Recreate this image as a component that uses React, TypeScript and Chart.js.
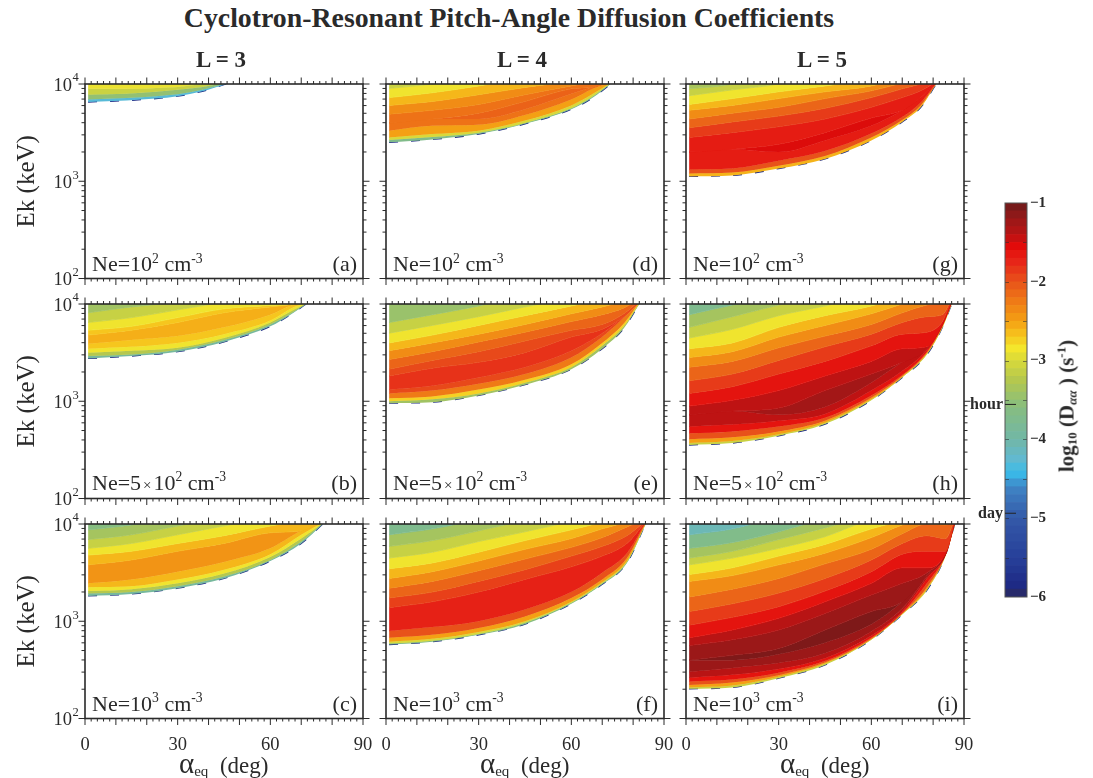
import React, { useEffect, useRef } from "react";
import { Chart, registerables } from "chart.js";

Chart.register(...registerables);

const SERIF = '"Liberation Serif", serif';
const INK = "#2a2a2a";

// x axis / y axis tick lists
const xMajorTicks = [0, 10, 20, 30, 40, 50, 60, 70, 80, 90];
const xMinorTicks = [2, 4, 6, 8, 12, 14, 16, 18, 22, 24, 26, 28, 32, 34, 36, 38, 42, 44, 46, 48, 52, 54, 56, 58, 62, 64, 66, 68, 72, 74, 76, 78, 82, 84, 86, 88];
const yMajorTicks = [100, 1000, 10000];
const yMinorTicks = [200, 300, 400, 500, 600, 700, 800, 900, 2000, 3000, 4000, 5000, 6000, 7000, 8000, 9000];
const yTickExponents: Record<number, string> = { 100: "2", 1000: "3", 10000: "4" };

// Colour scale: log10(Daa) -> colour
const colorStops: [number, string][] = [
  [-6, "#2b2a5e"], [-5.85, "#1e2a85"], [-5.5, "#27409a"], [-5, "#3459a8"], [-4.6, "#3f86c6"],
  [-4.43, "#39bcea"], [-4.25, "#62b9cf"], [-4, "#72b7a6"], [-3.6, "#86bd80"], [-3.25, "#b5c84e"],
  [-3, "#d8d93a"], [-2.85, "#f4e62c"], [-2.7, "#f6c61e"], [-2.5, "#f4a014"], [-2.25, "#ef7a16"],
  [-2, "#e8521a"], [-1.75, "#e72518"], [-1.55, "#e20b0a"], [-1.4, "#b81414"], [-1.2, "#981818"], [-1, "#6c1a1a"],
];
const colorbarEdges = [-6, -5.9, -5.8, -5.7, -5.6, -5.5, -5.4, -5.3, -5.2, -5.1, -5, -4.9, -4.8, -4.7, -4.6, -4.5, -4.4, -4.3, -4.2, -4.1, -4, -3.9, -3.8, -3.7, -3.6, -3.5, -3.4, -3.3, -3.2, -3.1, -3, -2.9, -2.8, -2.7, -2.6, -2.5, -2.4, -2.3, -2.2, -2.1, -2, -1.9, -1.8, -1.7, -1.6, -1.5, -1.4, -1.3, -1.2, -1.1, -1];
const colorbarMarks = [-1.5, -2, -2.5, -3, -3.5, -4, -4.5, -5, -5.5];
const timeMarks: [number, string][] = [[-3.556, "hour"], [-4.937, "day"]];

// Contour profiles: each row is one alpha stop, each entry the log10(E/keV) of one contour, top to bottom
const alphaA = [1, 13.5, 23, 30, 38, 45.7];
const bandsA = [-2.9, -3.1, -3.5, -4.3];
const profilesA = [
  [3.95, 3.89, 3.84, 3.815],
  [3.95, 3.9, 3.855, 3.83],
  [3.96, 3.92, 3.875, 3.85],
  [3.97, 3.94, 3.895, 3.875],
  [4.0, 3.97, 3.94, 3.925],
  [4.03, 4.015, 4.005, 4.0],
];

const alphaB = [1, 15, 30, 45, 60, 67, 71.6];
const bandsB = [-3.4, -3.12, -2.87, -2.7, -2.58, -2.7, -2.87, -3.25, -3.9];
const profilesB = [
  [3.91, 3.81, 3.73, 3.68, 3.59, 3.54, 3.5, 3.465, 3.44],
  [3.97, 3.86, 3.77, 3.73, 3.63, 3.56, 3.52, 3.48, 3.465],
  [4.02, 3.94, 3.86, 3.81, 3.67, 3.6, 3.55, 3.53, 3.51],
  [4.1, 4.02, 3.95, 3.91, 3.76, 3.69, 3.65, 3.63, 3.61],
  [4.2, 4.1, 3.985, 3.97, 3.89, 3.83, 3.81, 3.79, 3.77],
  [4.3, 4.15, 4.0, 3.995, 3.99, 3.96, 3.93, 3.91, 3.9],
  [4.4, 4.2, 4.05, 4.03, 4.02, 4.01, 4.005, 4.002, 4.0],
];

const alphaC = [1, 15, 30, 45, 60, 70, 77];
const bandsC = [-3.6, -3.37, -3.12, -2.87, -2.62, -2.42, -2.62, -2.87, -3.25, -3.9];
const profilesC = [
  [3.94, 3.84, 3.75, 3.68, 3.58, 3.39, 3.35, 3.31, 3.285, 3.26],
  [3.99, 3.89, 3.8, 3.72, 3.63, 3.43, 3.36, 3.33, 3.3, 3.28],
  [4.07, 3.98, 3.89, 3.8, 3.72, 3.51, 3.43, 3.39, 3.36, 3.34],
  [4.2, 4.07, 3.98, 3.88, 3.8, 3.61, 3.53, 3.49, 3.46, 3.44],
  [4.35, 4.2, 4.07, 3.98, 3.91, 3.75, 3.69, 3.66, 3.63, 3.62],
  [4.5, 4.3, 4.15, 4.03, 3.93, 3.93, 3.89, 3.85, 3.82, 3.8],
  [4.6, 4.4, 4.2, 4.06, 4.03, 4.02, 4.015, 4.01, 4.005, 4.0],
];

const alphaD = [1, 15, 30, 45, 60, 67, 72.7];
const bandsD = [-3.1, -2.87, -2.62, -2.37, -2.2, -2.1, -2.2, -2.5, -3, -3.7];
const profilesD = [
  [3.955, 3.86, 3.78, 3.69, 3.6, 3.6, 3.52, 3.45, 3.425, 3.4],
  [4.0, 3.91, 3.82, 3.73, 3.64, 3.64, 3.57, 3.485, 3.455, 3.43],
  [4.08, 3.98, 3.89, 3.79, 3.7, 3.64, 3.58, 3.52, 3.5, 3.485],
  [4.2, 4.06, 3.965, 3.89, 3.82, 3.74, 3.68, 3.625, 3.6, 3.59],
  [4.3, 4.15, 4.03, 3.98, 3.95, 3.9, 3.84, 3.78, 3.75, 3.74],
  [4.4, 4.2, 4.08, 4.02, 3.97, 3.97, 3.95, 3.9, 3.875, 3.86],
  [4.5, 4.3, 4.12, 4.05, 4.03, 4.02, 4.015, 4.01, 4.005, 4.0],
];

const alphaE = [1, 15, 30, 45, 60, 70, 77, 82];
const bandsE = [-3.45, -3.12, -2.87, -2.62, -2.37, -2.12, -1.95, -1.82, -1.95, -2.25, -2.75, -3.4];
const profilesE = [
  [3.81, 3.7, 3.6, 3.52, 3.43, 3.33, 3.26, 3.12, 3.08, 3.03, 3.0, 2.98],
  [3.89, 3.78, 3.68, 3.6, 3.51, 3.42, 3.34, 3.16, 3.11, 3.05, 3.02, 2.99],
  [3.98, 3.87, 3.78, 3.69, 3.61, 3.51, 3.4, 3.245, 3.18, 3.12, 3.08, 3.06],
  [4.1, 3.97, 3.88, 3.79, 3.71, 3.62, 3.5, 3.35, 3.28, 3.22, 3.19, 3.17],
  [4.25, 4.07, 3.98, 3.9, 3.82, 3.73, 3.66, 3.52, 3.45, 3.38, 3.35, 3.33],
  [4.35, 4.18, 4.05, 3.97, 3.89, 3.79, 3.74, 3.7, 3.66, 3.6, 3.57, 3.54],
  [4.45, 4.28, 4.12, 4.03, 3.96, 3.9, 3.875, 3.875, 3.86, 3.8, 3.77, 3.75],
  [4.5, 4.35, 4.2, 4.08, 4.05, 4.03, 4.025, 4.022, 4.02, 4.015, 4.008, 4.0],
];

const alphaF = [1, 15, 30, 45, 60, 70, 78, 84];
const bandsF = [-3.75, -3.37, -3.12, -2.87, -2.62, -2.37, -2.12, -1.9, -1.72, -2, -2.5, -3, -3.6];
const profilesF = [
  [3.89, 3.77, 3.65, 3.54, 3.44, 3.34, 3.24, 3.14, 2.9, 2.83, 2.79, 2.77, 2.76],
  [3.95, 3.83, 3.71, 3.6, 3.51, 3.41, 3.3, 3.2, 2.94, 2.86, 2.82, 2.8, 2.79],
  [4.05, 3.93, 3.82, 3.71, 3.62, 3.52, 3.41, 3.3, 3.0, 2.93, 2.89, 2.87, 2.86],
  [4.18, 4.04, 3.92, 3.83, 3.74, 3.64, 3.53, 3.43, 3.12, 3.05, 3.0, 2.985, 2.97],
  [4.3, 4.15, 4.03, 3.94, 3.85, 3.76, 3.67, 3.56, 3.3, 3.24, 3.2, 3.19, 3.18],
  [4.4, 4.25, 4.12, 4.02, 3.95, 3.86, 3.77, 3.67, 3.5, 3.43, 3.4, 3.39, 3.38],
  [4.5, 4.35, 4.2, 4.1, 4.02, 3.97, 3.88, 3.8, 3.7, 3.65, 3.62, 3.61, 3.6],
  [4.55, 4.4, 4.3, 4.15, 4.08, 4.05, 4.03, 4.02, 4.015, 4.01, 4.005, 4.002, 4.0],
];

const alphaG = [1, 15, 30, 45, 60, 70, 76, 81];
const bandsG = [-3.35, -3.12, -2.87, -2.62, -2.37, -2.12, -1.87, -1.68, -1.53, -1.68, -2, -2.6];
const profilesG = [
  [3.95, 3.88, 3.79, 3.73, 3.64, 3.55, 3.45, 3.3, 3.3, 3.12, 3.08, 3.05],
  [4.0, 3.94, 3.85, 3.78, 3.7, 3.61, 3.5, 3.33, 3.33, 3.13, 3.09, 3.06],
  [4.15, 4.0, 3.92, 3.85, 3.76, 3.67, 3.56, 3.38, 3.3, 3.21, 3.16, 3.13],
  [4.3, 4.12, 3.98, 3.92, 3.85, 3.75, 3.64, 3.5, 3.42, 3.31, 3.26, 3.23],
  [4.5, 4.3, 4.06, 3.98, 3.93, 3.86, 3.76, 3.65, 3.57, 3.49, 3.45, 3.42],
  [4.6, 4.45, 4.2, 4.07, 4.01, 3.95, 3.86, 3.73, 3.73, 3.66, 3.63, 3.61],
  [4.7, 4.55, 4.3, 4.15, 4.06, 4.0, 3.93, 3.86, 3.86, 3.81, 3.78, 3.76],
  [4.8, 4.6, 4.4, 4.25, 4.12, 4.05, 4.02, 4.015, 4.012, 4.01, 4.005, 4.0],
];

const alphaH = [1, 15, 30, 45, 60, 70, 78, 83, 86];
const bandsH = [-3.75, -3.37, -3.12, -2.87, -2.62, -2.37, -2.12, -1.87, -1.62, -1.42, -1.27, -1.42, -1.62, -2, -2.5, -3.1];
const profilesH = [
  [3.89, 3.76, 3.65, 3.54, 3.45, 3.35, 3.21, 3.08, 2.95, 2.86, 2.86, 2.74, 2.67, 2.61, 2.57, 2.55],
  [3.99, 3.87, 3.74, 3.6, 3.51, 3.41, 3.28, 3.15, 3.01, 2.9, 2.9, 2.76, 2.69, 2.63, 2.59, 2.57],
  [4.08, 3.99, 3.88, 3.76, 3.66, 3.55, 3.42, 3.28, 3.11, 2.93, 2.86, 2.8, 2.74, 2.69, 2.66, 2.645],
  [4.2, 4.1, 3.98, 3.88, 3.78, 3.67, 3.56, 3.41, 3.26, 3.11, 2.94, 2.87, 2.83, 2.8, 2.78, 2.765],
  [4.35, 4.25, 4.1, 3.98, 3.9, 3.79, 3.69, 3.57, 3.41, 3.28, 3.19, 3.11, 3.06, 3.035, 3.02, 3.01],
  [4.45, 4.35, 4.2, 4.08, 4.0, 3.91, 3.81, 3.69, 3.54, 3.4, 3.4, 3.31, 3.27, 3.26, 3.25, 3.245],
  [4.55, 4.45, 4.3, 4.2, 4.08, 3.99, 3.87, 3.71, 3.56, 3.54, 3.54, 3.53, 3.51, 3.5, 3.49, 3.48],
  [4.6, 4.5, 4.35, 4.25, 4.15, 4.02, 3.89, 3.82, 3.795, 3.79, 3.79, 3.785, 3.78, 3.77, 3.765, 3.76],
  [4.65, 4.55, 4.4, 4.3, 4.2, 4.08, 4.05, 4.04, 4.03, 4.025, 4.025, 4.02, 4.015, 4.01, 4.005, 4.0],
];

const alphaI = [1, 15, 30, 45, 60, 70, 78, 84, 87];
const bandsI = [-4.1, -3.7, -3.37, -3.12, -2.87, -2.62, -2.37, -2.12, -1.87, -1.62, -1.4, -1.22, -1.08, -1.22, -1.4, -1.62, -2, -2.5, -3.1];
const profilesI = [
  [3.89, 3.75, 3.65, 3.58, 3.48, 3.41, 3.25, 3.1, 2.96, 2.83, 2.75, 2.6, 2.6, 2.48, 2.42, 2.38, 2.345, 2.32, 2.305],
  [3.95, 3.81, 3.72, 3.65, 3.55, 3.47, 3.33, 3.18, 3.04, 2.91, 2.81, 2.65, 2.6, 2.52, 2.45, 2.4, 2.37, 2.34, 2.32],
  [4.08, 3.92, 3.84, 3.75, 3.67, 3.58, 3.44, 3.29, 3.15, 3.03, 2.91, 2.72, 2.66, 2.57, 2.51, 2.47, 2.445, 2.43, 2.415],
  [4.2, 4.06, 3.96, 3.87, 3.79, 3.7, 3.59, 3.44, 3.31, 3.2, 3.08, 2.91, 2.78, 2.67, 2.62, 2.59, 2.575, 2.565, 2.55],
  [4.35, 4.2, 4.1, 4.05, 3.95, 3.86, 3.74, 3.63, 3.51, 3.39, 3.27, 3.1, 2.97, 2.895, 2.85, 2.83, 2.82, 2.815, 2.81],
  [4.45, 4.3, 4.2, 4.12, 4.04, 3.99, 3.9, 3.8, 3.69, 3.55, 3.39, 3.2, 3.2, 3.13, 3.1, 3.085, 3.08, 3.075, 3.07],
  [4.55, 4.45, 4.35, 4.25, 4.15, 4.06, 4.0, 3.88, 3.72, 3.55, 3.5, 3.47, 3.47, 3.46, 3.44, 3.39, 3.35, 3.33, 3.32],
  [4.6, 4.5, 4.4, 4.3, 4.2, 4.1, 3.99, 3.85, 3.72, 3.7, 3.695, 3.69, 3.69, 3.688, 3.686, 3.684, 3.682, 3.681, 3.68],
  [4.7, 4.6, 4.5, 4.4, 4.3, 4.15, 4.06, 4.05, 4.04, 4.035, 4.03, 4.025, 4.025, 4.02, 4.015, 4.01, 4.006, 4.003, 4.0],
];

const columnLefts = [85, 386, 686];
const rowTops = [84, 304, 524];
const PLOT_W = 278;
const PLOT_H = 194.5;
const Y_BOX = 85;
const X_BOX = 60.5;
const PAD_TOP = 14;
const PAD_RIGHT = 14;

const panels = [
  { tag: "(a)", col: 0, row: 0, alpha: alphaA, bands: bandsA, profiles: profilesA, five: false, exp: "2" },
  { tag: "(b)", col: 0, row: 1, alpha: alphaB, bands: bandsB, profiles: profilesB, five: true, exp: "2" },
  { tag: "(c)", col: 0, row: 2, alpha: alphaC, bands: bandsC, profiles: profilesC, five: false, exp: "3" },
  { tag: "(d)", col: 1, row: 0, alpha: alphaD, bands: bandsD, profiles: profilesD, five: false, exp: "2" },
  { tag: "(e)", col: 1, row: 1, alpha: alphaE, bands: bandsE, profiles: profilesE, five: true, exp: "2" },
  { tag: "(f)", col: 1, row: 2, alpha: alphaF, bands: bandsF, profiles: profilesF, five: false, exp: "3" },
  { tag: "(g)", col: 2, row: 0, alpha: alphaG, bands: bandsG, profiles: profilesG, five: false, exp: "2" },
  { tag: "(h)", col: 2, row: 1, alpha: alphaH, bands: bandsH, profiles: profilesH, five: true, exp: "2" },
  { tag: "(i)", col: 2, row: 2, alpha: alphaI, bands: bandsI, profiles: profilesI, five: false, exp: "3" },
];

function hexRgb(h: string) {
  return [parseInt(h.slice(1, 3), 16), parseInt(h.slice(3, 5), 16), parseInt(h.slice(5, 7), 16)];
}
function colorOf(v: number) {
  for (let i = 1; i < colorStops.length; i++) {
    if (v <= colorStops[i][0]) {
      const [a, ca] = colorStops[i - 1];
      const [b, cb] = colorStops[i];
      const t = Math.max(0, (v - a) / (b - a));
      const A = hexRgb(ca);
      const B = hexRgb(cb);
      return `rgb(${A.map((c, k) => Math.round(c + (B[k] - c) * t)).join(",")})`;
    }
  }
  return colorStops[colorStops.length - 1][1];
}

const framePlugin = {
  id: "frame",
  afterDraw(chart: any) {
    const { ctx, chartArea: a, scales } = chart;
    const x = scales.x;
    const y = scales.y;
    ctx.save();
    ctx.strokeStyle = INK;
    ctx.lineWidth = 1;
    const hTick = (v: number, len: number) => {
      const px = x.getPixelForValue(v);
      ctx.beginPath();
      ctx.moveTo(px, a.top);
      ctx.lineTo(px, a.top - len);
      ctx.moveTo(px, a.bottom);
      ctx.lineTo(px, a.bottom + len);
      ctx.stroke();
    };
    const vTick = (v: number, len: number) => {
      const py = y.getPixelForValue(v);
      ctx.beginPath();
      ctx.moveTo(a.left, py);
      ctx.lineTo(a.left - len, py);
      ctx.moveTo(a.right, py);
      ctx.lineTo(a.right + len, py);
      ctx.stroke();
    };
    xMajorTicks.forEach((v) => hTick(v, 6.5));
    xMinorTicks.forEach((v) => hTick(v, 3));
    yMajorTicks.forEach((v) => vTick(v, 6.5));
    yMinorTicks.forEach((v) => vTick(v, 3.5));
    ctx.lineWidth = 1.6;
    ctx.strokeRect(a.left, a.top, a.right - a.left, a.bottom - a.top);
    if (y.options.ticks.display) {
      ctx.fillStyle = INK;
      ctx.font = `12.5px ${SERIF}`;
      ctx.textAlign = "left";
      ctx.textBaseline = "middle";
      yMajorTicks.forEach((v) => {
        ctx.fillText(yTickExponents[v], a.left - 12.5, y.getPixelForValue(v) - 6);
      });
    }
    ctx.restore();
  },
};

function Panel({ p }: { p: (typeof panels)[number] }) {
  const ref = useRef<HTMLCanvasElement>(null);
  useEffect(() => {
    const n = p.bands.length;
    const topCurve = p.alpha.map((a) => ({ x: a, y: 1e5 }));
    const curves = Array.from({ length: n }, (_, k) =>
      p.alpha.map((a, i) => ({ x: a, y: Math.pow(10, p.profiles[i][k]) }))
    );
    const datasets: any[] = [];
    for (let k = 0; k < n; k++) {
      const edge = k === 0 ? p.bands[0] : Math.min(p.bands[k - 1], p.bands[k]);
      datasets.push({
        data: k === 0 ? topCurve : curves[k - 1],
        fill: "+1",
        backgroundColor: colorOf(p.bands[k]),
        borderColor: colorOf(edge),
        borderWidth: 0.8,
      });
    }
    datasets.push({
      data: curves[n - 1],
      fill: false,
      borderColor: "#1c2a86",
      borderWidth: 1.3,
      borderDash: [9, 13],
    });
    const chart = new Chart(ref.current!, {
      type: "line",
      data: { datasets },
      plugins: [framePlugin],
      options: {
        responsive: false,
        animation: false,
        parsing: true,
        layout: { padding: { top: PAD_TOP, right: PAD_RIGHT, left: 0, bottom: 0 } },
        elements: {
          point: { radius: 0 },
          line: { cubicInterpolationMode: "monotone", capBezierPoints: false },
        },
        plugins: { legend: { display: false }, tooltip: { enabled: false } },
        scales: {
          x: {
            type: "linear",
            min: 0,
            max: 90,
            grid: { display: false, drawTicks: false },
            border: { display: false },
            ticks: {
              display: p.row === 2,
              stepSize: 30,
              maxRotation: 0,
              padding: 16,
              color: INK,
              font: { family: SERIF, size: 18.5 },
            },
            afterFit(s: any) {
              s.height = X_BOX;
              s.paddingLeft = 0;
              s.paddingRight = 0;
            },
          },
          y: {
            type: "logarithmic",
            min: 100,
            max: 10000,
            grid: { display: false, drawTicks: false },
            border: { display: false },
            title: {
              display: p.col === 0,
              text: "Ek (keV)",
              color: INK,
              font: { family: SERIF, size: 25 },
              padding: { top: 12, bottom: 0 },
            },
            ticks: {
              display: p.col === 0,
              autoSkip: false,
              padding: 13,
              labelOffset: 2,
              color: INK,
              font: { family: SERIF, size: 18.5 },
              callback: () => "10",
            },
            afterBuildTicks(s: any) { s.ticks = yMajorTicks.map((value) => ({ value })); },
            afterFit(s: any) {
              s.width = Y_BOX;
              s.paddingTop = 0;
              s.paddingBottom = 0;
            },
          },
        },
      } as any,
    });
    return () => chart.destroy();
  }, [p]);
  return (
    <canvas
      ref={ref}
      width={Y_BOX + PLOT_W + PAD_RIGHT}
      height={PAD_TOP + PLOT_H + X_BOX}
      style={{
        position: "absolute",
        left: columnLefts[p.col] - Y_BOX,
        top: rowTops[p.row] - PAD_TOP,
        width: Y_BOX + PLOT_W + PAD_RIGHT,
        height: PAD_TOP + PLOT_H + X_BOX,
      }}
    />
  );
}

const colorbarPlugin = {
  id: "cbarMarks",
  afterDraw(chart: any) {
    const { ctx, chartArea: a, scales } = chart;
    const y = scales.y;
    ctx.save();
    ctx.strokeStyle = "rgba(40,40,40,0.55)";
    ctx.lineWidth = 1;
    colorbarMarks.forEach((v) => {
      const py = Math.round(y.getPixelForValue(v)) + 0.5;
      ctx.beginPath();
      ctx.moveTo(a.left, py);
      ctx.lineTo(a.left + 4, py);
      ctx.moveTo(a.right - 4, py);
      ctx.lineTo(a.right, py);
      ctx.stroke();
    });
    ctx.strokeStyle = "#555";
    ctx.strokeRect(a.left, a.top, a.right - a.left, a.bottom - a.top);
    ctx.strokeStyle = "#222";
    ctx.fillStyle = INK;
    ctx.font = `bold 16px ${SERIF}`;
    ctx.textAlign = "right";
    ctx.textBaseline = "middle";
    timeMarks.forEach(([v, label]) => {
      const py = y.getPixelForValue(v);
      ctx.beginPath();
      ctx.moveTo(a.left, py);
      ctx.lineTo(a.left + 11, py);
      ctx.stroke();
      ctx.fillText(label, a.left - 2, py + 0.5);
    });
    ctx.restore();
  },
};

function Colorbar() {
  const ref = useRef<HTMLCanvasElement>(null);
  useEffect(() => {
    const chart = new Chart(ref.current!, {
      type: "bar",
      data: {
        labels: ["D"],
        datasets: colorbarEdges.slice(0, -1).map((lo, i) => ({
          data: [[lo, colorbarEdges[i + 1]]],
          backgroundColor: colorOf((lo + colorbarEdges[i + 1]) / 2),
          barPercentage: 1,
          categoryPercentage: 1,
          grouped: false,
        })),
      },
      plugins: [colorbarPlugin],
      options: {
        responsive: false,
        animation: false,
        layout: { padding: { top: 13, bottom: 13, left: 45, right: 0 } },
        plugins: { legend: { display: false }, tooltip: { enabled: false } },
        scales: {
          x: { display: false },
          y: {
            position: "right",
            min: -6,
            max: -1,
            grid: { display: false, drawTicks: false },
            border: { display: false },
            ticks: {
              stepSize: 1,
              padding: 3,
              color: INK,
              font: { family: SERIF, size: 15, weight: "bold" },
              callback: (v: any) => "\u2212" + String(Math.abs(v as number)),
            },
            afterFit(s: any) {
              s.width = 35;
              s.paddingTop = 0;
              s.paddingBottom = 0;
            },
          },
        },
      } as any,
    });
    return () => chart.destroy();
  }, []);
  return (
    <canvas
      ref={ref}
      width={102}
      height={420}
      style={{ position: "absolute", left: 960, top: 190, width: 102, height: 420 }}
    />
  );
}

function Txt({ x, base, size, bold, center, right, children }: any) {
  const style: React.CSSProperties = {
    position: "absolute",
    top: base - 0.8375 * size,
    fontFamily: SERIF,
    fontSize: size,
    lineHeight: 1,
    whiteSpace: "pre",
    color: INK,
    fontWeight: bold ? "bold" : "normal",
  };
  if (center) {
    style.left = x;
    style.transform = "translateX(-50%)";
  } else if (right) {
    style.right = 1093 - x;
  } else {
    style.left = x;
  }
  return <div style={style}>{children}</div>;
}

function Sup({ children, size }: any) {
  return (
    <span style={{ fontSize: size ?? "0.62em", position: "relative", top: "-0.62em", lineHeight: 0 }}>{children}</span>
  );
}
function Sub({ children, size, italic }: any) {
  return (
    <span style={{ fontSize: size ?? "0.62em", position: "relative", top: "0.25em", lineHeight: 0, fontStyle: italic ? "italic" : "normal" }}>{children}</span>
  );
}

const columnTitles = ["L = 3", "L = 4", "L = 5"];
const columnCenters = [221, 522, 822];
const rowBaselines = [271.5, 490, 711];
const xTitleLefts = [179, 480, 780];

export default function App() {
  return (
    <div style={{ position: "absolute", left: 0, top: 0, width: 1093, height: 778, overflow: "hidden", background: "#fff" }}>
      {panels.map((p) => <Panel key={p.tag} p={p} />)}
      <Colorbar />
      <Txt x={509} base={27} size={27.8} bold center>Cyclotron-Resonant Pitch-Angle Diffusion Coefficients</Txt>
      {columnTitles.map((t, i) => (
        <Txt key={t} x={columnCenters[i]} base={67} size={23} bold center>{t}</Txt>
      ))}
      {panels.map((p) => (
        <React.Fragment key={p.tag}>
          <Txt x={columnLefts[p.col] + 7} base={rowBaselines[p.row]} size={22}>
            Ne={p.five ? <>5<span style={{ fontSize: 15, margin: "0 2px" }}>×</span></> : null}10<Sup>{p.exp}</Sup> cm<Sup>-3</Sup>
          </Txt>
          <Txt x={columnLefts[p.col] + 272} base={rowBaselines[p.row]} size={22} right>{p.tag}</Txt>
        </React.Fragment>
      ))}
      {xTitleLefts.map((x) => (
        <Txt key={x} x={x} base={768} size={23}>
          <span style={{ fontSize: 29 }}>α</span><Sub size={15}>eq</Sub>  (deg)
        </Txt>
      ))}
      <div
        style={{
          position: "absolute",
          left: 1067,
          top: 406,
          transform: "translate(-50%,-50%) rotate(-90deg)",
          fontFamily: SERIF,
          fontWeight: "bold",
          fontSize: 21,
          lineHeight: 1,
          whiteSpace: "pre",
          color: INK,
        }}
      >
        log<Sub>10</Sub> (D<Sub italic>αα</Sub> ) (s<Sup>-1</Sup>)
      </div>
    </div>
  );
}
